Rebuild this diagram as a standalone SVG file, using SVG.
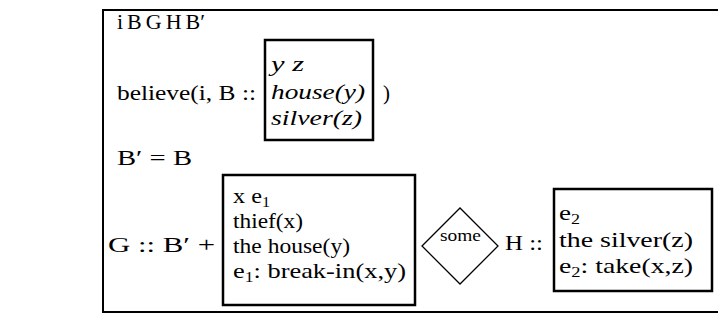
<svg xmlns="http://www.w3.org/2000/svg" width="718" height="323" viewBox="0 0 718 323">
<style>
text{font-family:"Liberation Serif","Times New Roman",serif;font-size:21px;fill:#000}
.it{font-style:italic}
.sm{font-size:16px}
.sub{font-size:14px}
.top{font-size:22px;word-spacing:-1.5px}
.box{fill:none;stroke:#000;stroke-width:2.5}
.frame{fill:none;stroke:#000;stroke-width:2}
.dia{fill:#fff;stroke:#000;stroke-width:1.3}
</style>
<rect width="718" height="323" fill="#fff"/>
<g id="frame">
<path class="frame" d="M722 10H103V312H722"/>
<text class="top" x="117" y="29">i B G H B′</text>
<text x="117" y="100" textLength="139" lengthAdjust="spacingAndGlyphs">believe(i, B ::</text>
<text x="383" y="100">)</text>
<text x="117" y="165" textLength="75" lengthAdjust="spacingAndGlyphs">B′ = B</text>
<text x="108" y="252" textLength="107" lengthAdjust="spacingAndGlyphs">G :: B′ +</text>
<text x="505" y="250" textLength="38" lengthAdjust="spacingAndGlyphs">H ::</text>
</g>
<g id="B">
<rect class="box" x="265" y="40" width="108" height="100"/>
<text class="it" x="271" y="71" textLength="33" lengthAdjust="spacingAndGlyphs">y z</text>
<text class="it" x="271" y="99" textLength="94" lengthAdjust="spacingAndGlyphs">house(y)</text>
<text class="it" x="271" y="125" textLength="91" lengthAdjust="spacingAndGlyphs">silver(z)</text>
</g>
<g id="G">
<rect class="box" x="223" y="175" width="192" height="130"/>
<text x="233" y="203" textLength="37" lengthAdjust="spacingAndGlyphs">x e<tspan class="sub" dy="4">1</tspan></text>
<text x="233" y="228" textLength="70" lengthAdjust="spacingAndGlyphs">thief(x)</text>
<text x="233" y="253" textLength="117" lengthAdjust="spacingAndGlyphs">the house(y)</text>
<text x="233" y="278" textLength="173" lengthAdjust="spacingAndGlyphs">e<tspan class="sub" dy="4">1</tspan><tspan dy="-4">: break-in(x,y)</tspan></text>
</g>
<g id="some">
<polygon class="dia" points="422,246 460,208 498,246 460,284"/>
<text class="sm" x="440" y="241" textLength="41" lengthAdjust="spacingAndGlyphs">some</text>
</g>
<g id="H">
<rect class="box" x="554" y="189" width="158" height="102"/>
<text x="559" y="220" textLength="21" lengthAdjust="spacingAndGlyphs">e<tspan class="sub" dy="4">2</tspan></text>
<text x="559" y="247" textLength="134" lengthAdjust="spacingAndGlyphs">the silver(z)</text>
<text x="559" y="273" textLength="134" lengthAdjust="spacingAndGlyphs">e<tspan class="sub" dy="4">2</tspan><tspan dy="-4">: take(x,z)</tspan></text>
</g>
<g id="connectors"/>
</svg>
